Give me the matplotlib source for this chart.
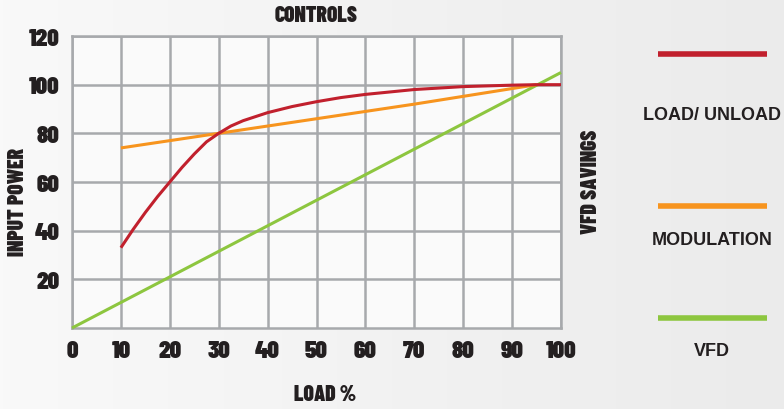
import matplotlib
matplotlib.use("Agg")
import matplotlib.pyplot as plt
import numpy as np
from matplotlib.lines import Line2D
from matplotlib.colors import LinearSegmentedColormap

# data
load_vfd = [0, 10, 20, 30, 40, 50, 60, 70, 80, 90, 100]
power_vfd = [0, 10.5, 21, 31.5, 42, 52.5, 63, 73.5, 84, 94.5, 105]

load_mod = [10, 30, 50, 70, 95]
power_mod = [74, 80, 86, 92, 100]

load_lu = [10, 12.5, 15, 17.5, 20, 22.5, 25, 27.5, 30, 32.5, 35, 40, 45, 50, 55, 60, 70, 80, 90, 95, 100]
power_lu = [33, 40.5, 47.5, 54, 60, 66, 71.5, 76.5, 80, 83, 85.2, 88.5, 91, 93, 94.7, 96, 98, 99.2, 99.8, 100, 100]

x_ticks = [0, 10, 20, 30, 40, 50, 60, 70, 80, 90, 100]
y_ticks = [20, 40, 60, 80, 100, 120]

RED = "#C1202D"
ORANGE = "#F7941E"
GREEN = "#8DC63F"
GRID = "#A7A9AC"
TXT = "#231F20"

cond = ["Barlow Condensed", "Liberation Sans Narrow", "DejaVu Sans"]
plain = ["Liberation Sans", "DejaVu Sans"]

fig = plt.figure(figsize=(7.84, 4.10), dpi=100)

# background gradient
bg = fig.add_axes([0, 0, 1, 1], zorder=-10)
grad = np.linspace(0, 1, 256).reshape(1, -1)
cmap = LinearSegmentedColormap.from_list("bg", ["#F9F9F9", "#F2F2F2", "#EBEBEB"])
bg.imshow(grad, aspect="auto", cmap=cmap, extent=[0, 1, 0, 1])
bg.axis("off")

ax = fig.add_axes([72 / 784, 81 / 410, 489 / 784, 292 / 410])
ax.set_facecolor("#FAFAFA")
ax.plot(load_vfd, power_vfd, color=GREEN, lw=2.2, solid_capstyle="butt", clip_on=False, zorder=3)
ax.plot(load_mod, power_mod, color=ORANGE, lw=2.2, solid_capstyle="butt", zorder=4)
ax.plot(load_lu, power_lu, color=RED, lw=2.2, solid_capstyle="butt", zorder=5)

ax.set_xlim(0, 100)
ax.set_ylim(0, 120)
ax.set_xticks(x_ticks)
ax.set_yticks(y_ticks)
ax.grid(True, color=GRID, lw=1.8)
ax.set_axisbelow(True)
for s in ax.spines.values():
    s.set_color(GRID)
    s.set_linewidth(1.8)
ax.tick_params(length=0, labelsize=18, labelcolor=TXT)
ax.tick_params(axis="x", pad=9)
ax.tick_params(axis="y", pad=9)
for lab in ax.get_xticklabels() + ax.get_yticklabels():
    lab.set_fontfamily(cond)
    lab.set_fontweight(900)

fig.text(316 / 784, 1 - 16 / 410, "CONTROLS", ha="center", va="center",
         family=cond, fontweight=900, fontsize=15.5, color=TXT)
fig.text(325 / 784, 1 - 395 / 410, "LOAD %", ha="center", va="center",
         family=cond, fontweight=900, fontsize=15.5, color=TXT)
fig.text(18 / 784, 1 - 202 / 410, "INPUT POWER", rotation=90, ha="center", va="center",
         family=cond, fontweight=900, fontsize=15.5, color=TXT)
fig.text(591 / 784, 1 - 182 / 410, "VFD SAVINGS", rotation=90, ha="center", va="center",
         family=cond, fontweight=900, fontsize=15.5, color=TXT)

# legend on the right
items = [
    (RED, 55, "LOAD/ UNLOAD", 115),
    (ORANGE, 207, "MODULATION", 241),
    (GREEN, 319, "VFD", 352),
]
for color, ly, label, ty in items:
    fig.add_artist(Line2D([658 / 784, 767 / 784], [1 - ly / 410, 1 - ly / 410],
                          color=color, lw=4, solid_capstyle="butt", transform=fig.transFigure))
    fig.text(712 / 784, 1 - ty / 410, label, ha="center", va="center",
             family=plain, fontweight="bold", fontsize=13, color=TXT)

fig.savefig("out.png", dpi=100)
